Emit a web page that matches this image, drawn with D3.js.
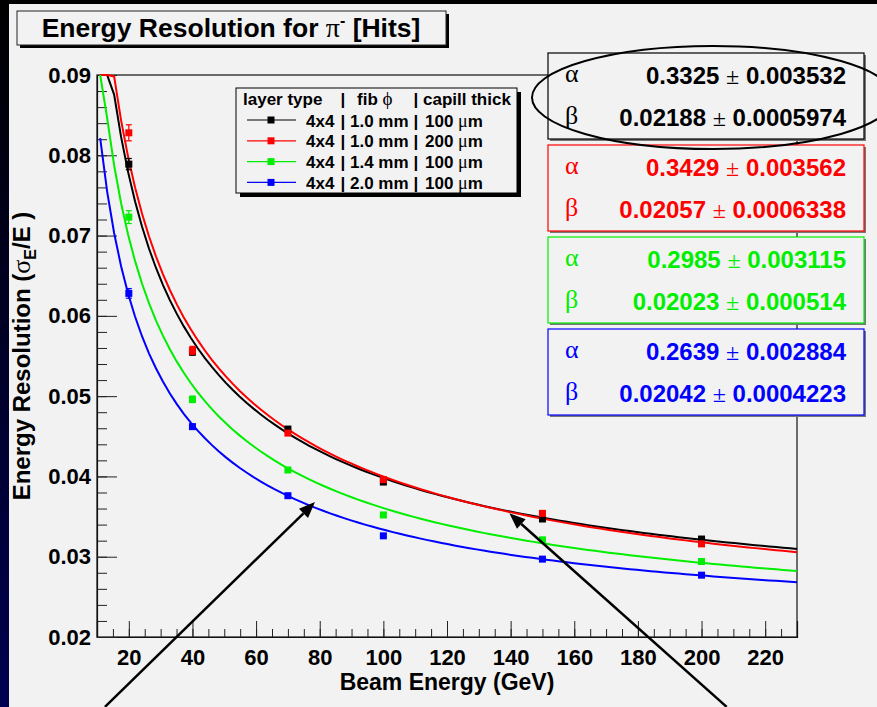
<!DOCTYPE html>
<html>
<head>
<meta charset="utf-8">
<script src="https://cdn.jsdelivr.net/npm/d3@7"></script>
<style>
  body { margin: 0; background: #000; }
  text { font-family: "Liberation Sans", Arial, sans-serif; font-weight: bold; }
  .greek { font-family: "Liberation Serif", "Times New Roman", serif; font-weight: normal; }
</style>
</head>
<body>
<div id="chart"></div>
<script>
"use strict";

// beam energies (GeV)
const energies = [20, 40, 70, 100, 150, 200];

// measured resolution per configuration
const black = [0.0789, 0.0555, 0.0459, 0.0393, 0.0347, 0.0322];
const red = [0.0828, 0.0557, 0.0454, 0.0396, 0.0354, 0.0316];
const green = [0.0723, 0.0496, 0.0408, 0.0352, 0.0321, 0.0294];
const blue = [0.0628, 0.0462, 0.0376, 0.0326, 0.0297, 0.0277];

// error bars
const blackErr = [0.0007, 0.0004, 0.0003, 0.0003, 0.0003, 0.0003];
const redErr = [0.0010, 0.0005, 0.0003, 0.0003, 0.0003, 0.0003];
const greenErr = [0.0008, 0.0004, 0.0003, 0.0003, 0.0003, 0.0003];
const blueErr = [0.0006, 0.0003, 0.0002, 0.0002, 0.0002, 0.0002];

// fit parameters sigma/E = alpha/sqrt(E) (+) beta
const alpha = [0.3325, 0.3429, 0.2985, 0.2639];
const alphaErr = ["0.003532", "0.003562", "0.003115", "0.002884"];
const beta = [0.02188, 0.02057, 0.02023, 0.02042];
const betaErr = ["0.0005974", "0.0006338", "0.000514", "0.0004223"];
const fitRange = [11, 230];

// legend rows
const legendHeader = ["layer type", "fib ", "capill thick"];
const layerType = ["4x4", "4x4", "4x4", "4x4"];
const fibre = ["1.0 mm", "1.0 mm", "1.4 mm", "2.0 mm"];
const capill = ["100", "200", "100", "100"];

const colors = ["#000000", "#ff0000", "#00ee00", "#0000ff"];
const series = [black, red, green, blue];
const seriesErr = [blackErr, redErr, greenErr, blueErr];

// axes
const xDomain = [10, 230];
const yDomain = [0.02, 0.09];
const xTicks = [20, 40, 60, 80, 100, 120, 140, 160, 180, 200, 220];
const yTicks = [0.02, 0.03, 0.04, 0.05, 0.06, 0.07, 0.08, 0.09];

const W = 877, H = 707;
const frame = { left: 97, right: 797, top: 75, bottom: 637 };
const bg = "#f2f2f2";

const svg = d3.select("#chart").append("svg")
    .attr("width", W)
    .attr("height", H);

// page background: dark slide edge + grey canvas
const grad = svg.append("defs").append("linearGradient")
    .attr("id", "edge")
    .attr("x1", 0).attr("y1", 0).attr("x2", 0).attr("y2", 1);
grad.append("stop").attr("offset", "0%").attr("stop-color", "#000000");
grad.append("stop").attr("offset", "100%").attr("stop-color", "#000050");

svg.append("rect").attr("width", W).attr("height", H).attr("fill", "#000");
svg.append("rect").attr("x", 0).attr("y", 0).attr("width", 9).attr("height", H).attr("fill", "url(#edge)");
svg.append("rect").attr("x", 9).attr("y", 4).attr("width", W - 9).attr("height", H - 4).attr("fill", bg);

const x = d3.scaleLinear().domain(xDomain).range([frame.left, frame.right]);
const y = d3.scaleLinear().domain(yDomain).range([frame.bottom, frame.top]);

// frame
svg.append("rect")
    .attr("x", frame.left).attr("y", frame.top)
    .attr("width", frame.right - frame.left)
    .attr("height", frame.bottom - frame.top)
    .attr("fill", bg)
    .attr("stroke", "#111")
    .attr("stroke-width", 1.2);

// minor ticks
svg.append("g")
    .attr("transform", "translate(0," + frame.bottom + ")")
    .call(d3.axisBottom(x).tickValues(d3.range(15, 230, 5)).tickFormat("").tickSize(-8))
    .call(g => g.select(".domain").remove());

svg.append("g")
    .attr("transform", "translate(" + frame.left + ",0)")
    .call(d3.axisLeft(y).tickValues(d3.range(0.022, 0.0899, 0.002)).tickFormat("").tickSize(-10))
    .call(g => g.select(".domain").remove());

// major ticks + labels
const xAxis = svg.append("g")
    .attr("transform", "translate(0," + frame.bottom + ")")
    .call(d3.axisBottom(x).tickValues(xTicks).tickFormat(d3.format("d")).tickSize(-16).tickPadding(12));

const yAxis = svg.append("g")
    .attr("transform", "translate(" + frame.left + ",0)")
    .call(d3.axisLeft(y).tickValues(yTicks).tickFormat(d3.format(".2f")).tickSize(-20).tickPadding(6));

[xAxis, yAxis].forEach(g => {
    g.select(".domain").attr("stroke", "#111").attr("stroke-width", 1.2);
    g.selectAll("text").attr("font-size", 22).attr("fill", "#000")
        .attr("font-family", "Liberation Sans, Arial, sans-serif").attr("font-weight", "bold");
});
svg.selectAll(".tick line").attr("stroke", "#222");

// axis titles
svg.append("text")
    .attr("x", (frame.left + frame.right) / 2)
    .attr("y", 690)
    .attr("text-anchor", "middle")
    .attr("font-size", 23)
    .text("Beam Energy (GeV)");

const yTitle = svg.append("text")
    .attr("transform", "translate(30," + (frame.top + frame.bottom) / 2 + ") rotate(-90)")
    .attr("text-anchor", "middle")
    .attr("font-size", 24);
yTitle.append("tspan").text("Energy Resolution (");
yTitle.append("tspan").attr("class", "greek").attr("font-size", 26).text("σ");
yTitle.append("tspan").attr("font-size", 16).attr("dy", 6).text("E");
yTitle.append("tspan").attr("dy", -6).text("/E )");

// fit curves, sampled like a TF1 with 100 points and clamped to the frame
const clip = v => Math.max(yDomain[0], Math.min(yDomain[1], v));
const line = d3.line().x(d => x(d[0])).y(d => y(clip(d[1])));

alpha.forEach((a, i) => {
    const pts = d3.range(0, 101).map(k => {
        const e = fitRange[0] + k * (fitRange[1] - fitRange[0]) / 100;
        return [e, Math.sqrt(a * a / e + beta[i] * beta[i])];
    });
    svg.append("path")
        .attr("d", line(pts))
        .attr("fill", "none")
        .attr("stroke", colors[i])
        .attr("stroke-width", 2);
});

// data points with error bars
series.forEach((vals, i) => {
    const g = svg.append("g").attr("fill", colors[i]).attr("stroke", colors[i]);
    vals.forEach((v, j) => {
        const cx = x(energies[j]);
        const e = seriesErr[i][j];
        g.append("line")
            .attr("x1", cx).attr("x2", cx)
            .attr("y1", y(v - e)).attr("y2", y(v + e))
            .attr("stroke-width", 1.2);
        [v - e, v + e].forEach(w => g.append("line")
            .attr("x1", cx - 3).attr("x2", cx + 3)
            .attr("y1", y(w)).attr("y2", y(w))
            .attr("stroke-width", 1.2));
        g.append("rect")
            .attr("x", cx - 3.5).attr("y", y(v) - 3.5)
            .attr("width", 7).attr("height", 7)
            .attr("stroke", "none");
    });
});

// legend
const leg = { x: 236, y: 88, w: 281, h: 105 };
svg.append("rect")
    .attr("x", leg.x + 4).attr("y", leg.y + 4)
    .attr("width", leg.w).attr("height", leg.h)
    .attr("fill", "#000");
svg.append("rect")
    .attr("x", leg.x).attr("y", leg.y)
    .attr("width", leg.w).attr("height", leg.h)
    .attr("fill", bg).attr("stroke", "#000").attr("stroke-width", 1);

const col = { bar1: 343, bar2: 416 };
const header = svg.append("g").attr("font-size", 17);
header.append("text").attr("x", 243).attr("y", 105).text(legendHeader[0]);
header.append("text").attr("x", col.bar1).attr("y", 105).attr("text-anchor", "middle").text("|");
const fib = header.append("text").attr("x", 357).attr("y", 105);
fib.append("tspan").text(legendHeader[1]);
fib.append("tspan").attr("class", "greek").attr("font-size", 19).text("ϕ");
header.append("text").attr("x", col.bar2).attr("y", 105).attr("text-anchor", "middle").text("|");
header.append("text").attr("x", 423).attr("y", 105).text(legendHeader[2]);

colors.forEach((c, i) => {
    const cy = 120 + i * 20.8;
    const g = svg.append("g").attr("font-size", 17);
    g.append("line")
        .attr("x1", 247).attr("x2", 296).attr("y1", cy).attr("y2", cy)
        .attr("stroke", c).attr("stroke-width", 1.2);
    g.append("rect")
        .attr("x", 271 - 3.5).attr("y", cy - 3.5).attr("width", 7).attr("height", 7)
        .attr("fill", c);
    g.append("text").attr("x", 306).attr("y", cy + 6.5).text(layerType[i]);
    g.append("text").attr("x", col.bar1).attr("y", cy + 6.5).attr("text-anchor", "middle").text("|");
    g.append("text").attr("x", 350).attr("y", cy + 6.5).text(fibre[i]);
    g.append("text").attr("x", col.bar2).attr("y", cy + 6.5).attr("text-anchor", "middle").text("|");
    const t = g.append("text").attr("x", 425).attr("y", cy + 6.5);
    t.append("tspan").text(capill[i] + " ");
    t.append("tspan").attr("class", "greek").attr("font-size", 18).text("μ");
    t.append("tspan").text("m");
});

// fit statistics boxes
const box = { x: 548, y: 53, w: 316, h: 86, step: 92 };
alpha.forEach((a, i) => {
    const top = box.y + i * box.step;
    svg.append("rect")
        .attr("x", box.x + 2).attr("y", top + 2)
        .attr("width", box.w).attr("height", box.h)
        .attr("fill", "#777");
    svg.append("rect")
        .attr("x", box.x).attr("y", top)
        .attr("width", box.w).attr("height", box.h)
        .attr("fill", bg).attr("stroke", colors[i]).attr("stroke-width", 1.2);

    const rows = [["α", d3.format(".4f")(a), alphaErr[i], 31], ["β", String(beta[i]), betaErr[i], 73]];
    rows.forEach(r => {
        svg.append("text")
            .attr("class", "greek")
            .attr("x", box.x + 17).attr("y", top + r[3] - 2)
            .attr("font-size", 26)
            .attr("fill", colors[i])
            .text(r[0]);
        const t = svg.append("text")
            .attr("x", box.x + 298).attr("y", top + r[3])
            .attr("text-anchor", "end")
            .attr("font-size", 24)
            .attr("fill", colors[i]);
        t.append("tspan").text(r[1] + " ");
        t.append("tspan").attr("class", "greek").text("±");
        t.append("tspan").text(" " + r[2]);
    });
});

// title box
svg.append("rect").attr("x", 20).attr("y", 14).attr("width", 429).attr("height", 34).attr("fill", "#000");
svg.append("rect")
    .attr("x", 17).attr("y", 11).attr("width", 429).attr("height", 34)
    .attr("fill", bg).attr("stroke", "#222").attr("stroke-width", 1);
const title = svg.append("text")
    .attr("x", 231).attr("y", 37)
    .attr("text-anchor", "middle")
    .attr("font-size", 26.5);
title.append("tspan").text("Energy Resolution for ");
title.append("tspan").attr("class", "greek").attr("font-size", 28).text("π");
title.append("tspan").attr("font-size", 16).attr("dy", -11).text("-");
title.append("tspan").attr("dy", 11).text(" [Hits]");

// annotations: ellipse around the black fit and two arrows
svg.append("ellipse")
    .attr("cx", 713).attr("cy", 97.5)
    .attr("rx", 181).attr("ry", 51.5)
    .attr("fill", "none").attr("stroke", "#000").attr("stroke-width", 2);

const arrows = [
    [[12.5, 0.0113], [78.5, 0.0368]],
    [[207.9, 0.0113], [139.6, 0.0354]]
];
arrows.forEach(([from, to]) => {
    const x1 = x(from[0]), y1 = y(from[1]), x2 = x(to[0]), y2 = y(to[1]);
    const ang = Math.atan2(y2 - y1, x2 - x1);
    const len = 16, half = 6.5;
    const bx = x2 - len * Math.cos(ang), by = y2 - len * Math.sin(ang);
    svg.append("line")
        .attr("x1", x1).attr("y1", y1).attr("x2", bx).attr("y2", by)
        .attr("stroke", "#000").attr("stroke-width", 2.5);
    svg.append("path")
        .attr("d", d3.line()([
            [x2, y2],
            [bx + half * Math.sin(ang), by - half * Math.cos(ang)],
            [bx - half * Math.sin(ang), by + half * Math.cos(ang)]
        ]) + "Z")
        .attr("fill", "#000");
});
</script>
</body>
</html>
